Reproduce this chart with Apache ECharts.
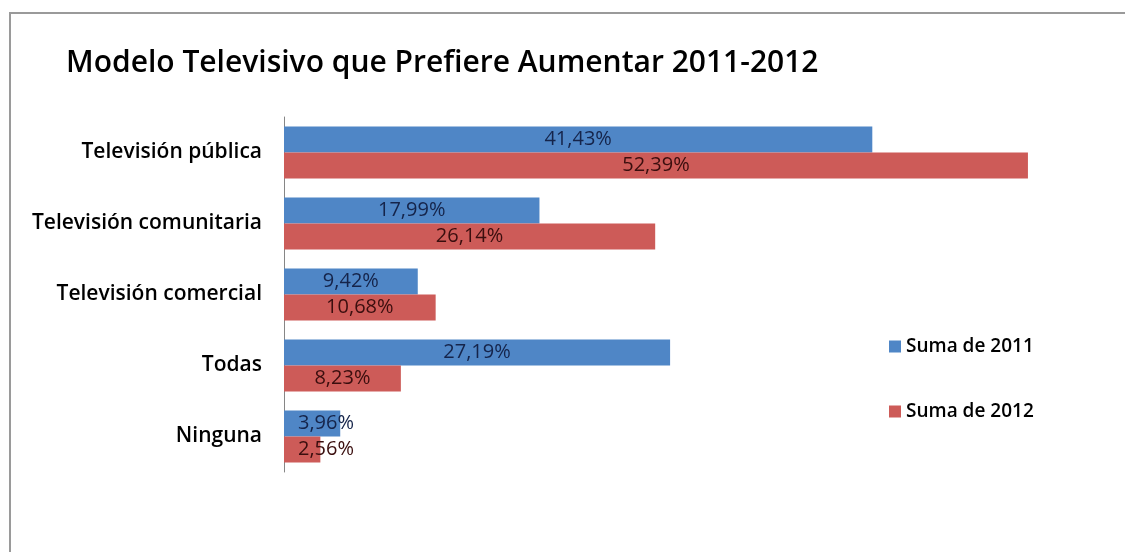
<!DOCTYPE html>
<html>
<head>
<meta charset="utf-8">
<script src="https://cdn.jsdelivr.net/npm/echarts@6/dist/echarts.min.js"></script>
<style>
  html, body { margin: 0; padding: 0; background: #fff; }
  #chart { width: 1125px; height: 552px; }
</style>
</head>
<body>
<div id="chart"></div>
<script>
// datos
const categorias = ['Televisión pública', 'Televisión comunitaria', 'Televisión comercial', 'Todas', 'Ninguna'];
const suma2011 = [41.43, 17.99, 9.42, 27.19, 3.96];
const suma2012 = [52.39, 26.14, 10.68, 8.23, 2.56];
const nombresSeries = ['Suma de 2011', 'Suma de 2012'];

const FONT = '"Open Sans", "Noto Sans", sans-serif';

const chart = echarts.init(document.getElementById('chart'), null, { renderer: 'canvas' });

// formato con coma decimal
const fmt = (p) => p.value.toFixed(2).replace('.', ',') + '%';

// barras muy cortas: la etiqueta se corre a la derecha del eje (como en Excel)
const conEtiqueta = (vals) => vals.map(v => v < 5
  ? { value: v, label: { position: 'insideLeft', distance: 14 } }
  : v);

const option = {
  animation: false,
  backgroundColor: '#ffffff',
  title: {
    text: 'Modelo Televisivo que Prefiere Aumentar 2011-2012',
    left: 61,
    top: 43,
    textStyle: { fontFamily: FONT, fontSize: 30, fontWeight: 600, color: '#000' }
  },
  // marco del área del gráfico
  graphic: [{
    type: 'polyline',
    shape: { points: [[10, 552], [10, 13], [1125, 13]] },
    style: { stroke: '#9a9a9a', lineWidth: 2, fill: null }
  }],
  legend: {
    data: nombresSeries,
    orient: 'vertical',
    left: 884,
    top: 332,
    itemGap: 46,
    itemWidth: 12,
    itemHeight: 12,
    icon: 'rect',
    textStyle: { fontFamily: FONT, fontSize: 19, fontWeight: 600, color: '#000' }
  },
  grid: { left: 284, right: 60, top: 117, bottom: 80, containLabel: false },
  xAxis: {
    type: 'value',
    min: 0,
    max: 55,
    show: false
  },
  yAxis: {
    type: 'category',
    data: categorias,
    inverse: true,
    axisLine: { show: true, lineStyle: { color: '#868686', width: 1 } },
    axisTick: { show: false },
    axisLabel: { margin: 22, fontFamily: FONT, fontSize: 21, fontWeight: 600, color: '#000' }
  },
  series: [
    {
      name: nombresSeries[0],
      type: 'bar',
      data: conEtiqueta(suma2011),
      barCategoryGap: '27%',
      barGap: '0%',
      itemStyle: { color: '#4f86c6' },
      label: { show: true, position: 'inside', formatter: fmt, fontFamily: FONT, fontSize: 20, color: '#15244a' }
    },
    {
      name: nombresSeries[1],
      type: 'bar',
      data: conEtiqueta(suma2012),
      barCategoryGap: '27%',
      barGap: '0%',
      itemStyle: { color: '#cd5b58' },
      label: { show: true, position: 'inside', formatter: fmt, fontFamily: FONT, fontSize: 20, color: '#3a0e0e' }
    }
  ]
};

chart.setOption(option);
</script>
</body>
</html>
